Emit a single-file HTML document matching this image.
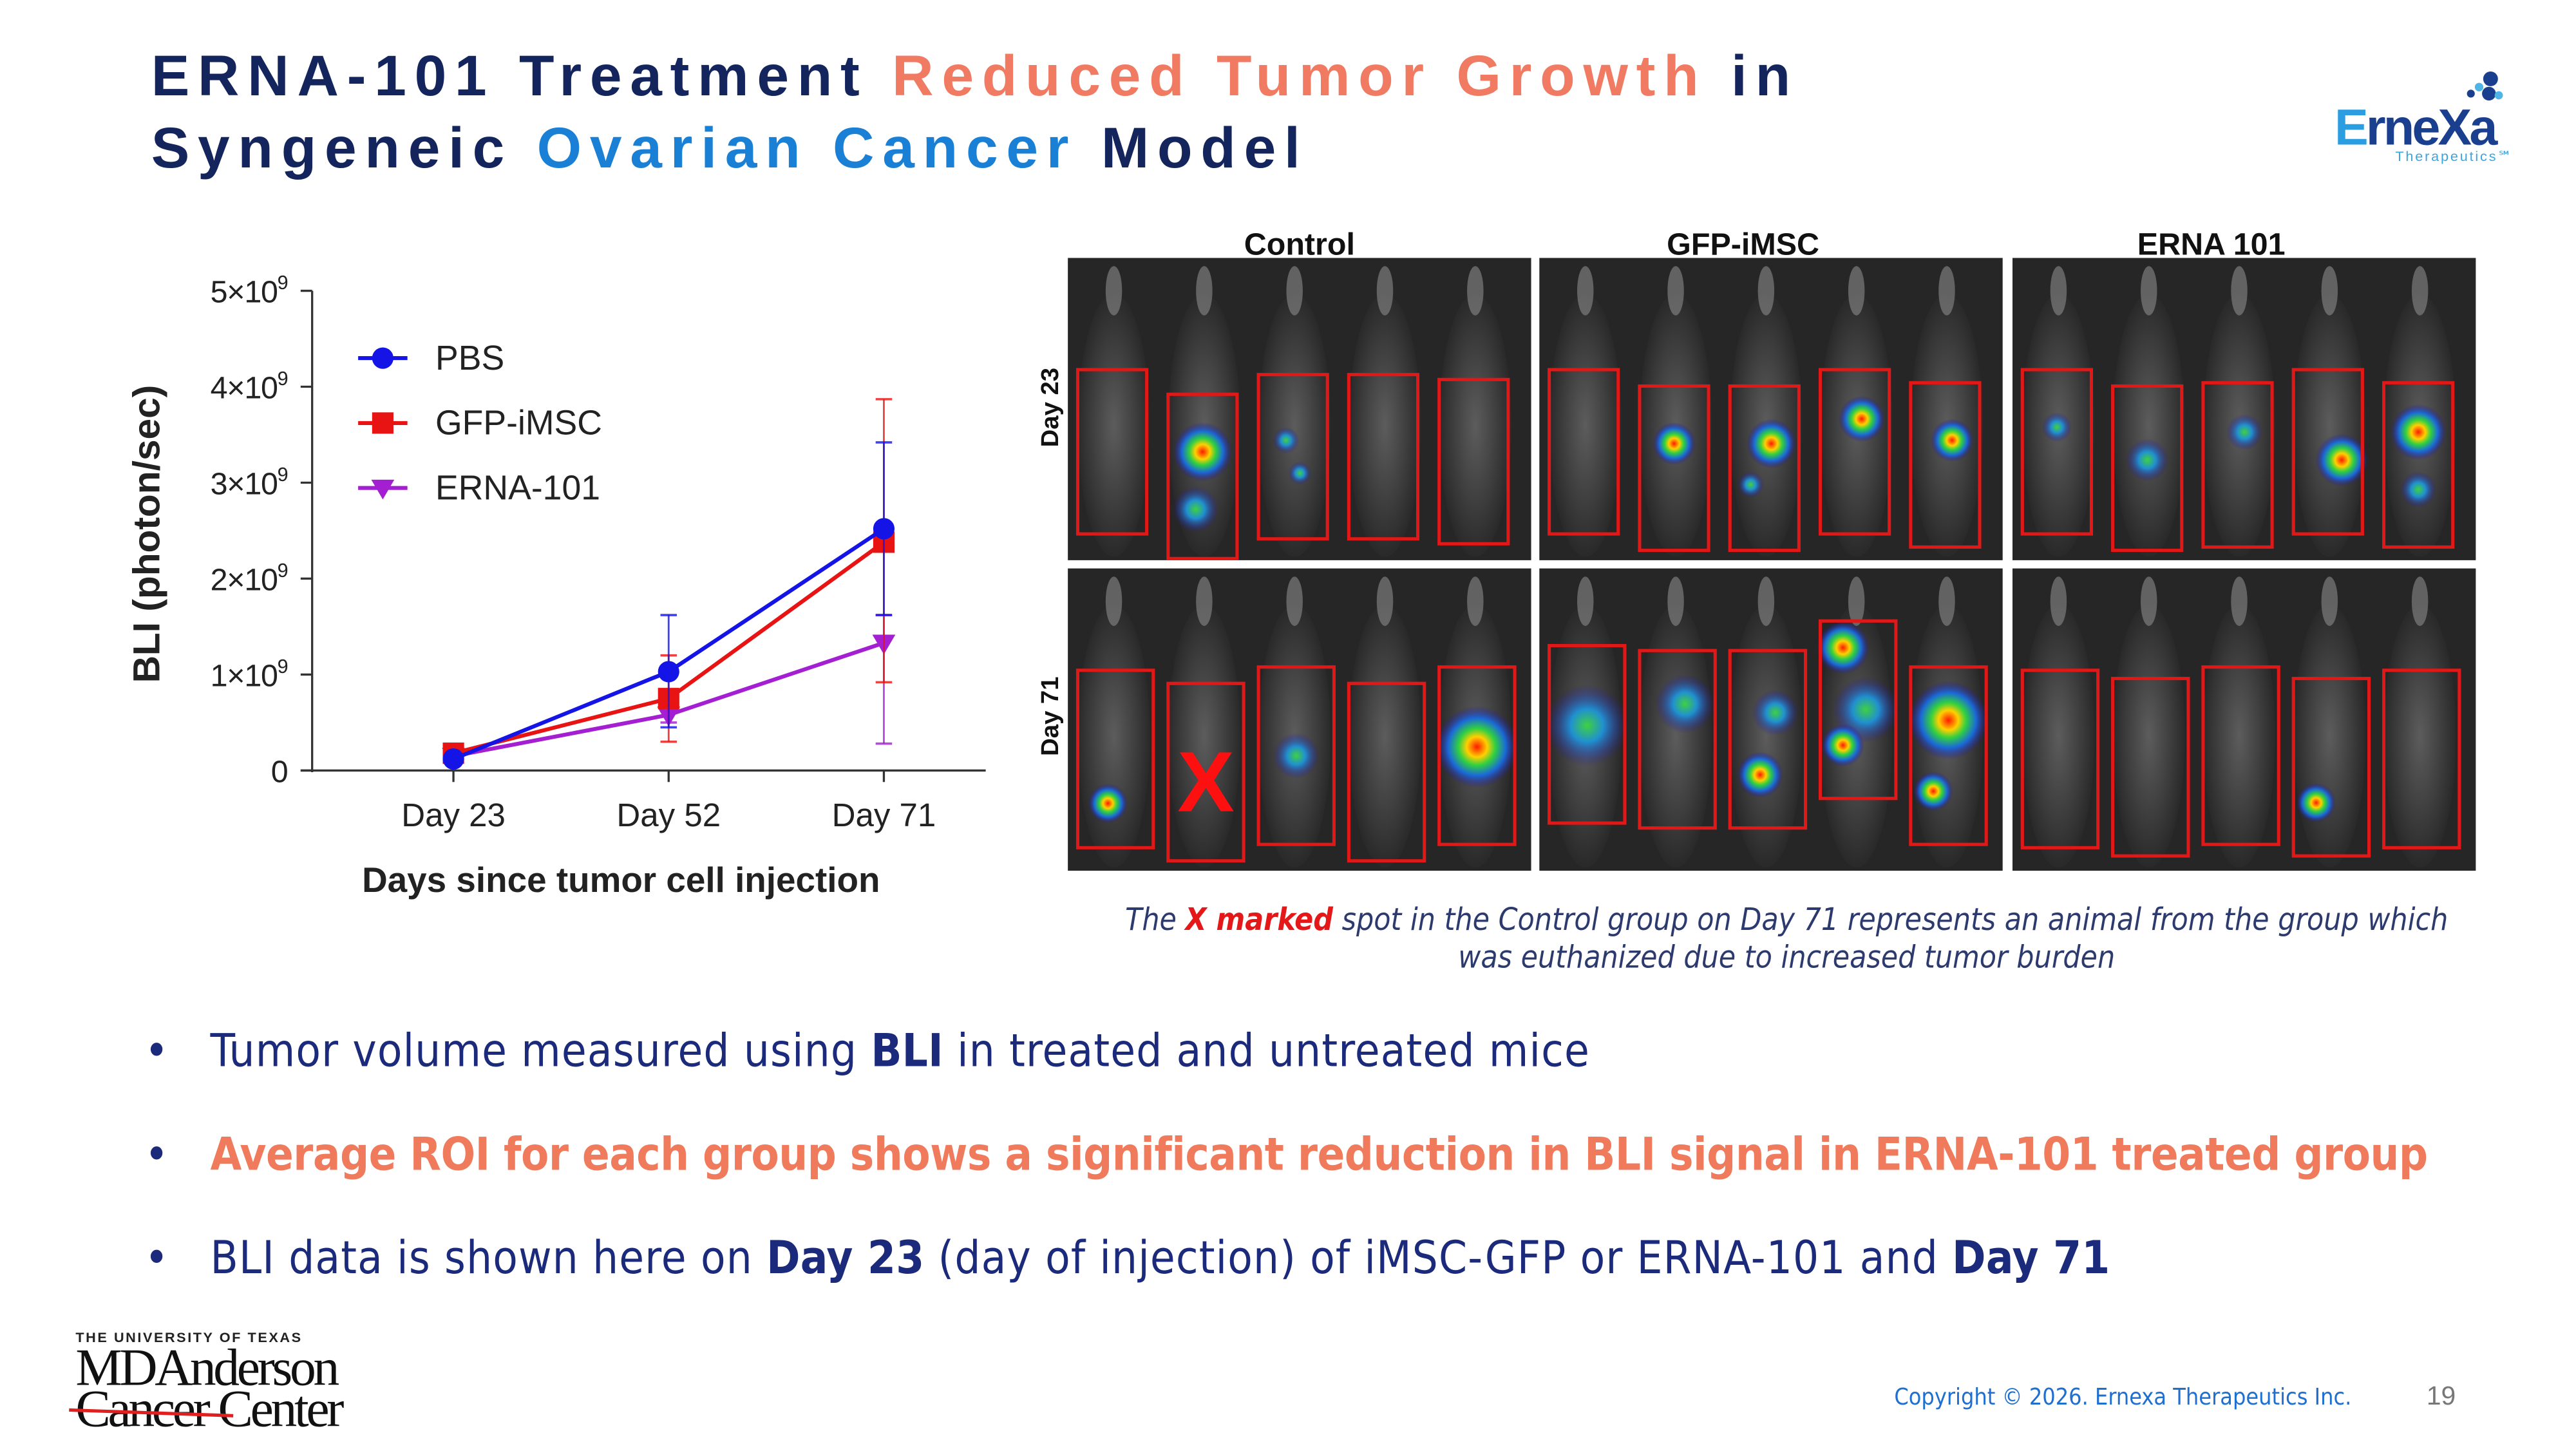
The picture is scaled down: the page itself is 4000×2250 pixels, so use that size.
<!DOCTYPE html>
<html><head><meta charset="utf-8">
<style>
html,body{margin:0;padding:0;background:#fff;overflow:hidden}
#root{position:absolute;left:0;top:0;width:1568px;height:882px;transform:scale(2.55102);transform-origin:0 0;font-family:"Liberation Sans",sans-serif;background:#fff}
.abs{position:absolute}
.title{left:92px;font-weight:bold;font-size:35px;letter-spacing:5px;color:#13255c;white-space:nowrap;line-height:40px}
.or{color:#f07a62}.bl{color:#1a80d6}
.bul{left:88px;font-size:27.5px;color:#1b2a7a;white-space:nowrap;font-family:"DejaVu Sans Condensed","Liberation Sans",sans-serif;letter-spacing:0.45px}
.bul b{letter-spacing:0.1px}
.bul span.d{display:inline-block;width:40px;letter-spacing:0}
</style></head>
<body>
<div id="root">
<div class="abs title" style="top:27px">ERNA-101 Treatment <span class="or">Reduced Tumor Growth</span> in</div>
<div class="abs title" style="top:71px">Syngeneic <span class="bl">Ovarian Cancer</span> Model</div>

<div class="abs" style="left:1418px;top:40px;width:125px;height:65px">
<svg width="125" height="65" viewBox="0 0 125 65">
<circle cx="98" cy="8" r="4.5" fill="#1b3f8f"/><circle cx="91" cy="13" r="2.6" fill="#4fb4e6"/><circle cx="97" cy="17" r="4.2" fill="#1b3f8f"/><circle cx="103" cy="18" r="2.5" fill="#4fb4e6"/><circle cx="86" cy="17" r="2.4" fill="#1b3f8f"/>
<text x="3" y="48" font-family="Liberation Sans,sans-serif" font-weight="bold" font-size="31" fill="#1b3f8f" letter-spacing="-1.5"><tspan fill="#2a9ee0">E</tspan>rneXa</text>
<text x="40" y="58" font-family="Liberation Sans,sans-serif" font-size="8.5" fill="#3aa6e0" letter-spacing="1.1">Therapeutics℠</text>
</svg></div>

<svg class="abs" style="left:0;top:0" width="640" height="560" id="chart"></svg>

<svg class="abs" style="left:620px;top:130px" width="900" height="410" id="imgs"></svg>

<div class="abs" style="left:600px;top:549px;width:975px;text-align:center;font-family:'DejaVu Sans Condensed','Liberation Sans',sans-serif;font-style:italic;font-size:18.7px;line-height:23px;color:#2c3a6e">The <b style="color:#e41818">X marked</b> spot in the Control group on Day 71 represents an animal from the group which<br>was euthanized due to increased tumor burden</div>

<div class="abs bul" style="top:624px"><span class="d">•</span>Tumor volume measured using <b>BLI</b> in treated and untreated mice</div>
<div class="abs bul" style="top:687px;color:#f07a5c;font-weight:bold;letter-spacing:-0.2px"><span class="d" style="color:#1b2a7a;font-weight:normal">•</span>Average ROI for each group shows a significant reduction in BLI signal in ERNA-101 treated group</div>
<div class="abs bul" style="top:750px"><span class="d">•</span>BLI data is shown here on <b>Day 23</b> (day of injection) of iMSC-GFP or ERNA-101 and <b>Day 71</b></div>

<div class="abs" style="left:46px;top:809px;width:200px;height:65px">
<div style="font-size:8.5px;letter-spacing:1px;color:#222;font-weight:bold">THE UNIVERSITY OF TEXAS</div>
<div style="font-family:'Liberation Serif',serif;font-size:32px;line-height:25px;color:#111;letter-spacing:-1.7px;margin-top:1px">MDAnderson</div>
<div style="font-family:'Liberation Serif',serif;font-size:32px;line-height:25px;color:#111;letter-spacing:-1.7px;position:relative">Cancer Center<div style="position:absolute;left:-4px;top:14px;width:100px;height:2px;background:#e02020;transform:rotate(2deg)"></div></div>
</div>
<div class="abs" style="left:1153px;top:843px;font-size:14px;color:#1f6fd0;font-family:'DejaVu Sans Condensed','Liberation Sans',sans-serif">Copyright © 2026. Ernexa Therapeutics Inc.</div>
<div class="abs" style="left:1477px;top:842px;font-size:16px;color:#777">19</div>
</div>

<script>
const categories=["Day 23","Day 52","Day 71"];
const seriesNames=["PBS","GFP-iMSC","ERNA-101"];
const pbsMean=[0.12,1.03,2.52];
const pbsHi=[0.15,1.62,3.42];
const pbsLo=[0.08,0.45,1.62];
const gfpMean=[0.18,0.75,2.38];
const gfpHi=[0.2,1.2,3.87];
const gfpLo=[0.14,0.3,0.92];
const ernaMean=[0.15,0.58,1.33];
const ernaHi=[0.17,0.68,1.62];
const ernaLo=[0.12,0.5,0.28];
const yTicks=[0,1,2,3,4,5];

const NS="http://www.w3.org/2000/svg";
function mk(p,t,a){const e=document.createElementNS(NS,t);for(const k in a)e.setAttribute(k,a[k]);p.appendChild(e);return e;}
const ch=document.getElementById('chart');
const X0=190,Y0=469,YT=177,XR=600;
const ySc=v=>Y0-(Y0-YT)*v/5;
const xSc=i=>276+i*131;
let ax=mk(ch,'line',{x1:X0,y1:YT,x2:X0,y2:Y0+1,stroke:'#333','stroke-width':1.3});

ax=mk(ch,'line',{x1:183,y1:Y0,x2:XR,y2:Y0,stroke:'#333','stroke-width':1.3});

yTicks.forEach(v=>{
  const y=ySc(v);
  mk(ch,'line',{x1:183,y1:y,x2:X0,y2:y,stroke:'#333','stroke-width':1.3});
  const t=mk(ch,'text',{x:175,y:y+7,'text-anchor':'end','font-size':19,fill:'#222','letter-spacing':-0.5});
  
  if(v===0){t.textContent='0';}else{t.textContent=v+'×10';const s=mk(t,'tspan',{dy:-8,'font-size':12});s.textContent='9';}
});
categories.forEach((c,i)=>{
  mk(ch,'line',{x1:xSc(i),y1:Y0,x2:xSc(i),y2:Y0+7,stroke:'#333','stroke-width':1.3});
  const t=mk(ch,'text',{x:xSc(i),y:503,'text-anchor':'middle','font-size':20,fill:'#222'});
  
  t.textContent=c;
});
let t=mk(ch,'text',{x:378,y:543,'text-anchor':'middle','font-size':21.5,'font-weight':'bold',fill:'#222'});

t.textContent='Days since tumor cell injection';
t=mk(ch,'text',{x:0,y:0,'text-anchor':'middle','font-size':23,'font-weight':'bold',fill:'#222',transform:'translate(97,325) rotate(-90)'});

t.textContent='BLI (photon/sec)';

const series=[
 {m:pbsMean,h:pbsHi,l:pbsLo,c:'#1414e6',mk:'circle'},
 {m:gfpMean,h:gfpHi,l:gfpLo,c:'#e81414',mk:'square'},
 {m:ernaMean,h:ernaHi,l:ernaLo,c:'#a41ed2',mk:'tri'}];
function marker(g,type,x,y,c){
  if(type==='circle')return mk(g,'circle',{cx:x,cy:y,r:6.5,fill:c});
  if(type==='square')return mk(g,'rect',{x:x-6.5,y:y-6.5,width:13,height:13,fill:c});
  return mk(g,'path',{d:`M${x-7},${y-5}L${x+7},${y-5}L${x},${y+7}Z`,fill:c});
}
series.slice().reverse().forEach((s,ri)=>{
  const g=mk(ch,'g',{});
  
  
  s.m.forEach((v,i)=>{
    const x=xSc(i);
    mk(g,'line',{x1:x,y1:ySc(s.h[i]),x2:x,y2:ySc(s.l[i]),stroke:s.c,'stroke-width':1.1,opacity:0.8});
    mk(g,'line',{x1:x-5,y1:ySc(s.h[i]),x2:x+5,y2:ySc(s.h[i]),stroke:s.c,'stroke-width':1.4,opacity:0.8});
    mk(g,'line',{x1:x-5,y1:ySc(s.l[i]),x2:x+5,y2:ySc(s.l[i]),stroke:s.c,'stroke-width':1.4,opacity:0.8});
  });
  mk(g,'polyline',{points:s.m.map((v,i)=>xSc(i)+','+ySc(v)).join(' '),fill:'none',stroke:s.c,'stroke-width':2.4});
  s.m.forEach((v,i)=>{const p=marker(g,s.mk,xSc(i),ySc(v),s.c);});
});
series.forEach((s,i)=>{
  const y=218+i*39.5;
  const g=mk(ch,'g',{});
  
  
  mk(g,'line',{x1:218,y1:y,x2:248,y2:y,stroke:s.c,'stroke-width':2.4});
  marker(g,s.mk,233,y,s.c);
  const tt=mk(g,'text',{x:265,y:y+7,'font-size':21,fill:'#222'});tt.textContent=seriesNames[i];
});

// image panels
const im=document.getElementById('imgs');
const defs=mk(im,'defs',{});
const rg=mk(defs,'radialGradient',{id:'heat'});
[[0,'#ff1a00'],[0.25,'#ffd000'],[0.45,'#30d040'],[0.7,'#1a6ad8'],[1,'rgba(40,20,160,0)']].forEach(s=>mk(rg,'stop',{offset:s[0],'stop-color':s[1]}));
const rg2=mk(defs,'radialGradient',{id:'heatc'});
[[0,'#40d040'],[0.4,'#2090d0'],[1,'rgba(40,20,160,0)']].forEach(s=>mk(rg2,'stop',{offset:s[0],'stop-color':s[1]}));
const rg3=mk(defs,'radialGradient',{id:'mouse'});
[[0,'#6a6a6a'],[0.6,'#444'],[1,'#2a2a2a']].forEach(s=>mk(rg3,'stop',{offset:s[0],'stop-color':s[1]}));
const cols=[30,317,605], rows=[27,216], PW=282, PH=184;
[['Control',791],['GFP-iMSC',1061],['ERNA 101',1346]].forEach(h=>{const e=mk(im,'text',{x:h[1]-620,y:25,'text-anchor':'middle','font-size':19,'font-weight':'bold',fill:'#111'});e.textContent=h[0];});
[['Day 23',118],['Day 71',306]].forEach(h=>{const e=mk(im,'text',{x:0,y:0,'text-anchor':'middle','font-size':15,'font-weight':'bold',fill:'#111',transform:`translate(24,${h[1]}) rotate(-90)`});e.textContent=h[0];});
const blobs=[
 [[[1,.5,.35,18,'heat'],[1,.4,.7,14,'heatc'],[2,.4,.4,8,'heatc'],[2,.6,.6,7,'heatc']],
  [[1,.5,.35,13,'heat'],[2,.6,.35,15,'heat'],[2,.3,.6,8,'heatc'],[3,.6,.3,14,'heat'],[4,.6,.35,13,'heat']],
  [[0,.5,.35,9,'heatc'],[1,.5,.45,13,'heatc'],[2,.6,.3,11,'heatc'],[3,.7,.55,16,'heat'],[4,.5,.3,17,'heat'],[4,.5,.65,11,'heatc']]],
 [[[0,.4,.75,12,'heat'],[2,.5,.5,14,'heatc'],[4,.5,.45,25,'heat']],
  [[0,.5,.45,25,'heatc'],[1,.6,.3,18,'heatc'],[2,.4,.7,14,'heat'],[2,.6,.35,14,'heatc'],[3,.3,.15,16,'heat'],[3,.6,.5,20,'heatc'],[3,.3,.7,13,'heat'],[4,.5,.3,24,'heat'],[4,.3,.7,12,'heat']],
  [[3,.3,.7,12,'heat']]]];
const boxY=[[[70,85,73,73,76],[70,80,80,70,78],[70,80,78,70,78]],[[70,78,68,78,68],[55,58,58,40,68],[70,75,68,75,70]]];
rows.forEach((ry,r)=>cols.forEach((cx,c)=>{
  const g=mk(im,'g',{});
  
  
  mk(g,'rect',{x:cx,y:ry,width:PW,height:PH,fill:'#262626'});
  for(let k=0;k<5;k++){
    const mx=cx+6+k*55;
    mk(g,'ellipse',{cx:mx+22,cy:ry+PH/2+10,rx:22,ry:80,fill:'url(#mouse)',opacity:0.8});
    mk(g,'ellipse',{cx:mx+22,cy:ry+20,rx:5,ry:15,fill:'#8a8a8a',opacity:0.6});
  }
  const bw=(r===1)?46:42, bh=(r===1)?108:100;
  for(let k=0;k<5;k++){
    const bx=cx+6+k*55;
    const by=ry+boxY[r][c][k]-(r===1?8:2);
    blobs[r][c].filter(b=>b[0]===k).forEach(b=>{
      mk(g,'circle',{cx:bx+bw*b[1],cy:by+bh*b[2],r:b[3],fill:`url(#${b[4]})`});
    });
    mk(g,'rect',{x:bx,y:by,width:bw,height:bh,fill:'none',stroke:'#e01818','stroke-width':2});
    if(r===1&&c===0&&k===1){
      const xx=mk(g,'text',{x:bx+bw/2,y:by+bh*0.72,'text-anchor':'middle','font-size':52,'font-weight':'bold',fill:'#ff1010'});xx.textContent='X';
      
    }
  }
}));
</script>
</body></html>
